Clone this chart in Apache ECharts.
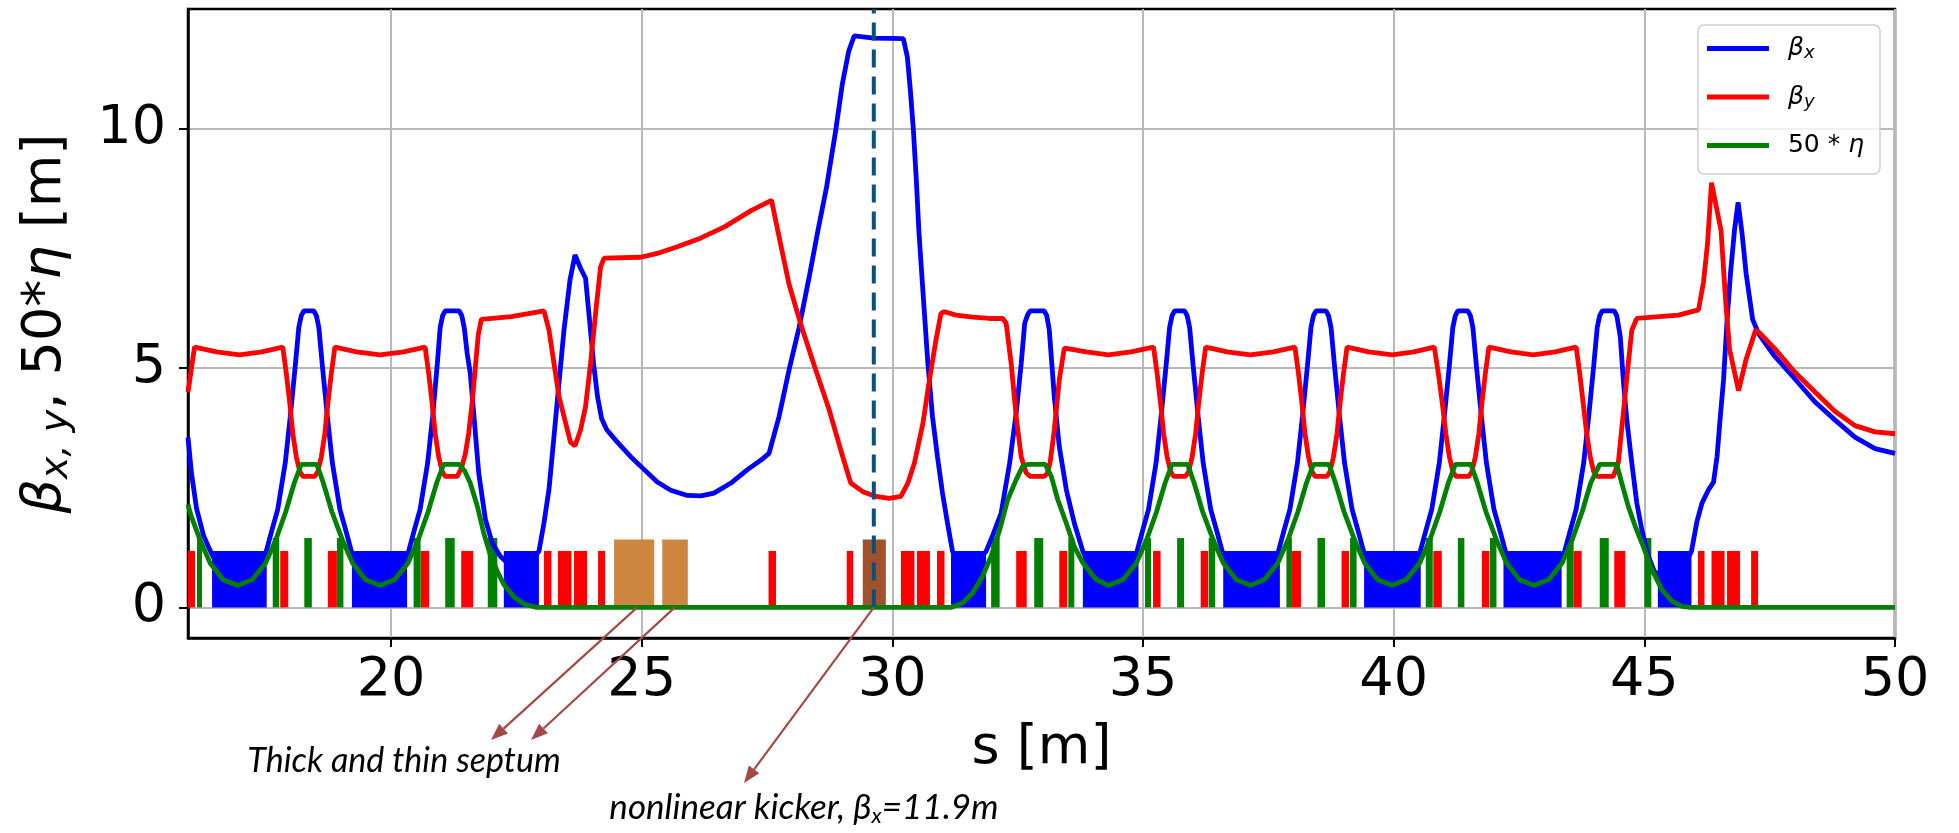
<!DOCTYPE html>
<html>
<head>
<meta charset="utf-8">
<script src="https://cdn.jsdelivr.net/npm/echarts@6/dist/echarts.min.js"></script>
<style>
  html, body { margin: 0; padding: 0; background: #ffffff; }
  #chart { width: 1959px; height: 833px; }
</style>
</head>
<body>
<div id="chart"></div>
<script>
// ---- axis ticks ----
const sTicks = [20, 25, 30, 35, 40, 45, 50];
const yTicks = [0, 5, 10];
const S_MIN = 15.95, S_MAX = 50;
const Y_MIN = -0.64, Y_MAX = 12.51;

// ---- optics functions along s [m] ----
const betaX = [
  [15.95,3.55],[16.02,2.80],[16.12,2.07],[16.26,1.50],[16.40,1.17],[16.55,0.85],[16.97,0.50],[17.38,0.85],
  [17.51,1.17],[17.62,1.60],[17.74,2.05],[17.89,3.02],[17.99,3.99],[18.09,5.05],[18.16,5.85],[18.21,6.10],[18.26,6.20],[18.46,6.20],[18.51,6.10],[18.56,5.85],[18.63,5.05],[18.73,3.99],[18.83,3.02],[18.98,2.05],[19.10,1.60],[19.21,1.17],
  [19.36,0.85],[19.78,0.50],[20.20,0.85],
  [20.35,1.17],[20.46,1.60],[20.58,2.05],[20.73,3.02],[20.83,3.99],[20.92,5.05],[20.98,5.85],[21.03,6.10],[21.08,6.20],[21.36,6.20],[21.41,6.10],[21.46,5.85],[21.52,5.30],[21.58,4.90],[21.65,4.05],[21.75,2.80],[21.88,1.85],[22.02,1.34],[22.18,1.07],
  [22.40,0.85],[22.70,0.90],
  [22.95,1.17],[23.05,1.76],[23.15,2.46],[23.25,3.57],[23.35,4.69],[23.45,5.80],[23.57,6.85],[23.67,7.37],[23.78,7.09],[23.88,6.88],[23.96,6.00],[24.04,5.10],[24.12,4.40],[24.20,3.95],[24.30,3.72],[24.50,3.47],[24.78,3.15],[25.05,2.88],[25.31,2.62],[25.58,2.45],[25.91,2.34],[26.18,2.33],[26.44,2.39],[26.78,2.60],[27.11,2.88],[27.38,3.08],[27.54,3.22],[27.74,3.99],[27.94,4.97],[28.14,5.85],[28.34,6.90],[28.51,7.85],[28.69,8.80],[28.87,9.97],[29.00,10.93],[29.13,11.63],[29.24,11.95],[29.63,11.90],[30.22,11.89],
  [30.30,11.50],[30.36,10.80],[30.42,9.97],[30.48,8.90],[30.53,7.85],[30.62,6.45],[30.71,5.08],[30.80,3.99],[30.90,3.15],[31.00,2.39],[31.10,1.76],[31.20,1.17],
  [31.40,0.90],[31.60,0.85],
  [31.87,1.17],[32.00,1.50],[32.17,1.97],[32.34,3.02],[32.47,4.06],[32.57,5.10],[32.64,5.94],[32.70,6.12],[32.75,6.20],[33.03,6.20],[33.08,6.10],[33.13,5.80],[33.23,4.41],[33.33,3.36],[33.47,2.46],[33.63,1.76],[33.80,1.17],
  [33.95,0.85],[34.33,0.50],[34.75,0.85],
  [34.88,1.17],[34.99,1.60],[35.11,2.05],[35.26,3.02],[35.36,3.99],[35.46,5.05],[35.53,5.85],[35.58,6.10],[35.63,6.20],[35.83,6.20],[35.88,6.10],[35.93,5.85],[36.00,5.05],[36.10,3.99],[36.20,3.02],[36.35,2.05],[36.47,1.60],[36.58,1.17],
  [36.73,0.85],[37.15,0.50],[37.57,0.85],
  [37.70,1.17],[37.81,1.60],[37.93,2.05],[38.08,3.02],[38.18,3.99],[38.28,5.05],[38.35,5.85],[38.40,6.10],[38.45,6.20],[38.65,6.20],[38.70,6.10],[38.75,5.85],[38.82,5.05],[38.92,3.99],[39.02,3.02],[39.17,2.05],[39.29,1.60],[39.40,1.17],
  [39.55,0.85],[39.97,0.50],[40.39,0.85],
  [40.53,1.17],[40.64,1.60],[40.76,2.05],[40.91,3.02],[41.01,3.99],[41.11,5.05],[41.18,5.85],[41.23,6.10],[41.28,6.20],[41.48,6.20],[41.53,6.10],[41.58,5.85],[41.65,5.05],[41.75,3.99],[41.85,3.02],[42.00,2.05],[42.12,1.60],[42.23,1.17],
  [42.38,0.85],[42.80,0.50],[43.22,0.85],
  [43.41,1.17],[43.52,1.60],[43.64,2.05],[43.79,3.02],[43.89,3.99],[43.99,5.05],[44.06,5.85],[44.11,6.10],[44.16,6.20],[44.40,6.20],[44.45,6.10],[44.52,5.66],[44.58,4.76],[44.65,3.92],[44.75,3.02],[44.85,2.18],[44.95,1.62],[45.08,1.07],[45.20,0.75],
  [45.45,0.60],[45.75,0.80],
  [45.94,1.17],[46.05,1.80],[46.15,2.18],[46.28,2.46],[46.38,2.62],[46.45,3.15],[46.51,3.92],[46.58,4.76],[46.65,6.00],[46.72,7.00],[46.80,7.90],[46.87,8.47],[46.95,7.81],[47.03,6.98],[47.16,6.02],[47.28,5.72],
  [47.60,5.25],[48.00,4.78],[48.40,4.30],[48.80,3.92],[49.20,3.56],[49.60,3.32],[50.00,3.22]
];

const betaY = [
  [15.95,4.50],[16.08,5.44],[16.52,5.34],[16.98,5.28],[17.42,5.34],
  [17.84,5.44],[17.91,4.90],[17.98,4.27],[18.04,3.64],[18.11,3.15],[18.18,2.84],[18.24,2.74],[18.48,2.74],[18.54,2.84],[18.61,3.15],[18.68,3.64],[18.74,4.27],[18.81,4.90],[18.88,5.44],
  [19.31,5.34],[19.78,5.28],[20.25,5.34],
  [20.68,5.44],[20.75,4.90],[20.82,4.27],[20.88,3.64],[20.95,3.15],[21.02,2.84],[21.08,2.74],[21.32,2.74],[21.40,2.90],[21.48,3.20],[21.55,3.65],[21.62,4.30],[21.68,5.00],[21.74,5.70],[21.80,6.02],[22.40,6.08],[23.05,6.20],
  [23.15,5.80],[23.25,5.10],[23.35,4.41],[23.45,3.99],[23.58,3.45],[23.67,3.38],[23.78,3.71],[23.88,4.20],[23.98,5.10],[24.08,6.15],[24.18,7.12],[24.25,7.30],[24.98,7.32],[25.31,7.40],[25.71,7.54],[26.13,7.70],[26.66,7.96],[27.19,8.30],[27.59,8.51],
  [27.68,8.05],[27.81,7.40],[27.94,6.75],[28.08,6.25],[28.21,5.80],[28.47,4.97],[28.74,4.13],[29.01,3.15],[29.17,2.60],[29.41,2.42],[29.67,2.32],[29.94,2.28],[30.17,2.32],[30.31,2.60],[30.44,3.02],[30.61,3.85],[30.74,4.76],[30.87,5.59],[30.97,6.15],[31.04,6.18],
  [31.27,6.11],[31.60,6.07],[31.94,6.04],[32.20,6.04],[32.27,5.94],[32.37,5.10],[32.47,3.99],[32.57,3.15],[32.67,2.81],[32.75,2.74],[33.03,2.74],[33.09,2.80],[33.15,3.05],[33.23,3.71],[33.33,4.76],[33.43,5.42],
  [33.87,5.34],[34.31,5.28],[34.76,5.34],
  [35.21,5.44],[35.28,4.90],[35.35,4.27],[35.41,3.64],[35.48,3.15],[35.55,2.84],[35.61,2.74],[35.85,2.74],[35.91,2.84],[35.98,3.15],[36.05,3.64],[36.11,4.27],[36.18,4.90],[36.25,5.44],
  [36.68,5.34],[37.14,5.28],[37.60,5.34],
  [38.03,5.44],[38.10,4.90],[38.17,4.27],[38.23,3.64],[38.30,3.15],[38.37,2.84],[38.43,2.74],[38.67,2.74],[38.73,2.84],[38.80,3.15],[38.87,3.64],[38.93,4.27],[39.00,4.90],[39.07,5.44],
  [39.50,5.34],[39.97,5.28],[40.40,5.34],
  [40.81,5.44],[40.89,4.90],[40.97,4.27],[41.04,3.64],[41.11,3.15],[41.18,2.84],[41.24,2.74],[41.50,2.74],[41.56,2.84],[41.63,3.15],[41.70,3.64],[41.76,4.27],[41.83,4.90],[41.90,5.44],
  [42.34,5.34],[42.78,5.28],[43.22,5.34],
  [43.64,5.44],[43.71,4.90],[43.78,4.27],[43.85,3.64],[43.92,3.15],[43.99,2.84],[44.05,2.74],[44.38,2.74],[44.48,3.02],[44.58,4.06],[44.68,5.10],[44.75,5.80],[44.85,6.04],
  [45.30,6.08],[45.68,6.11],[46.08,6.22],[46.18,6.80],[46.26,7.60],[46.34,8.88],[46.53,7.88],[46.62,6.43],[46.70,5.39],[46.88,4.53],[47.03,5.19],[47.22,5.80],[47.30,5.74],
  [47.60,5.41],[48.00,4.92],[48.40,4.51],[48.80,4.10],[49.20,3.80],[49.60,3.67],[50.00,3.63]
];

// dispersion scaled by 50
const eta50 = [
  [15.95,2.15],[16.00,1.95],[16.19,1.41],[16.39,0.93],[16.65,0.58],[16.95,0.46],
  [17.23,0.58],[17.50,0.93],[17.70,1.41],[17.90,2.00],[18.07,2.60],[18.21,2.99],[18.52,2.99],[18.65,2.60],[18.82,2.00],[19.03,1.41],[19.23,0.93],[19.49,0.58],[19.78,0.46],
  [20.07,0.58],[20.34,0.93],[20.54,1.41],[20.74,2.00],[20.91,2.60],[21.05,2.99],[21.36,2.99],[21.47,2.85],[21.58,2.60],[21.72,2.12],[21.85,1.55],[21.98,1.10],[22.12,0.75],[22.25,0.48],[22.45,0.22],[22.65,0.07],[22.90,0.00],
  [31.17,0.00],[31.40,0.09],[31.60,0.30],[31.80,0.65],[31.97,1.07],[32.14,1.62],[32.30,2.25],[32.47,2.67],[32.60,2.95],[32.70,2.99],[33.05,2.99],[33.17,2.74],[33.30,2.25],[33.47,1.76],[33.63,1.27],[33.80,0.93],[34.07,0.58],[34.31,0.46],
  [34.60,0.58],[34.87,0.93],[35.07,1.41],[35.27,2.00],[35.44,2.60],[35.58,2.99],[35.89,2.99],[36.02,2.60],[36.19,2.00],[36.40,1.41],[36.60,0.93],[36.86,0.58],[37.14,0.46],
  [37.42,0.58],[37.69,0.93],[37.89,1.41],[38.09,2.00],[38.26,2.60],[38.40,2.99],[38.71,2.99],[38.84,2.60],[39.01,2.00],[39.22,1.41],[39.42,0.93],[39.68,0.58],[39.97,0.46],
  [40.25,0.58],[40.52,0.93],[40.72,1.41],[40.92,2.00],[41.09,2.60],[41.23,2.99],[41.54,2.99],[41.67,2.60],[41.84,2.00],[42.05,1.41],[42.25,0.93],[42.51,0.58],[42.80,0.46],
  [43.09,0.58],[43.36,0.93],[43.56,1.41],[43.76,2.00],[43.93,2.60],[44.11,2.99],[44.45,2.99],[44.55,2.60],[44.68,2.11],[44.82,1.69],[44.98,1.27],[45.15,0.79],[45.35,0.37],[45.55,0.13],[45.75,0.02],[45.92,0.00],[50.00,0.00]
];

// ---- lattice elements: [s_start, s_end] ----
const quadrupoles = [
  [15.95,16.09],[17.79,17.95],[18.74,18.92],[20.59,20.76],[21.40,21.64],[23.05,23.20],[23.33,23.60],[23.65,23.91],[24.13,24.27],
  [27.53,27.68],[29.09,29.22],[30.17,30.44],[30.49,30.75],[30.89,31.04],[32.47,32.68],[33.33,33.49],[35.20,35.35],[36.15,36.30],
  [37.97,38.15],[38.96,39.11],[40.79,40.96],[41.76,41.91],[43.59,43.75],[44.40,44.62],[46.07,46.20],[46.34,46.60],[46.65,46.91],[47.13,47.27]
];
const dipoles = [
  [16.43,17.52],[19.22,20.32],[22.25,22.95],[31.17,31.87],[33.80,34.91],[36.60,37.73],[39.41,40.54],[42.19,43.35],[45.27,45.94]
];
const sextupoles = [
  [16.13,16.23],[17.64,17.77],[18.27,18.42],[18.92,19.05],[20.45,20.59],[21.08,21.27],[21.93,22.12],
  [31.97,32.14],[32.83,33.01],[33.51,33.63],[35.04,35.16],[35.68,35.82],[36.31,36.44],[37.86,37.97],[38.48,38.63],
  [39.13,39.26],[40.64,40.78],[41.28,41.41],[41.92,42.05],[43.45,43.59],[44.11,44.29],[45.00,45.14]
];
const septa = [[24.45,25.25],[25.41,25.92]];
const kickers = [[29.41,29.87]];
const elementHeight = { dipole: 1.18, quadrupole: 1.18, sextupole: 1.45, septum: 1.42, kicker: 1.42 };

// nonlinear kicker location
const KICKER_S = 29.63;

// ---- styling ----
const COLORS = { bx: '#0000ff', by: '#ff0000', eta: '#008000' };
const ELEMENT_COLORS = { dipole: '#0000ff', quadrupole: '#ff0000', sextupole: '#008000', septum: '#cd853f', kicker: '#a0522d' };
const KIND_LIST = ['dipole', 'quadrupole', 'sextupole', 'septum', 'kicker'];
const ANNOT_COLOR = '#a24a48';
const MAIN_FONT = "'DejaVu Sans', sans-serif";
const NOTE_FONT = "Lato, 'Open Sans', sans-serif";
const LINE_W = 4.8;

function elementRows() {
  const groups = [['dipole', dipoles], ['quadrupole', quadrupoles], ['sextupole', sextupoles], ['septum', septa], ['kicker', kickers]];
  const rows = [];
  groups.forEach(([kind, list]) => {
    list.forEach(([a, b]) => rows.push([a, b, elementHeight[kind], KIND_LIST.indexOf(kind)]));
  });
  return rows;
}

const kickerBeta = betaX.find(p => p[0] === KICKER_S)[1];

const chart = echarts.init(document.getElementById('chart'), null, { renderer: 'canvas' });

const option = {
  animation: false,
  backgroundColor: '#ffffff',
  grid: {
    left: 188, top: 9, width: 1707, height: 629,
    show: true, borderColor: '#000000', borderWidth: 2.5, backgroundColor: 'transparent'
  },
  xAxis: {
    type: 'value', min: S_MIN, max: S_MAX,
    name: 's [m]', nameLocation: 'middle', nameGap: 84,
    nameTextStyle: { fontFamily: MAIN_FONT, fontSize: 54, color: '#000' },
    axisLine: { show: true, onZero: false, lineStyle: { color: '#000', width: 2.5 } },
    axisTick: { show: true, customValues: sTicks, length: 9, lineStyle: { color: '#000', width: 2 } },
    axisLabel: { customValues: sTicks, fontFamily: MAIN_FONT, fontSize: 54, color: '#000', margin: 16 },
    splitLine: { show: true, lineStyle: { color: '#b8b8b8', width: 2 } }
  },
  yAxis: {
    type: 'value', min: Y_MIN, max: Y_MAX,
    name: '{g|β}{s|x, y}{n|, 50*}{g|η}{n| [m]}',
    nameLocation: 'middle', nameRotate: 90, nameGap: 112,
    nameTextStyle: {
      color: '#000',
      rich: {
        g: { fontFamily: MAIN_FONT, fontStyle: 'italic', fontSize: 54, lineHeight: 60, color: '#000' },
        s: { fontFamily: MAIN_FONT, fontStyle: 'italic', fontSize: 38, lineHeight: 22, verticalAlign: 'bottom', color: '#000' },
        n: { fontFamily: MAIN_FONT, fontSize: 54, lineHeight: 60, color: '#000' }
      }
    },
    axisLine: { show: true, onZero: false, lineStyle: { color: '#000', width: 2.5 } },
    axisTick: { show: true, customValues: yTicks, length: 9, lineStyle: { color: '#000', width: 2 } },
    axisLabel: { customValues: yTicks, fontFamily: MAIN_FONT, fontSize: 54, color: '#000', margin: 22 },
    splitLine: { show: true, lineStyle: { color: '#b8b8b8', width: 2 } }
  },
  legend: {
    data: ['βx', 'βy', '50*η'],
    orient: 'vertical', right: 79, top: 25,
    icon: 'rect', itemWidth: 62, itemHeight: 5, itemGap: 22,
    padding: [11, 16, 16, 9],
    backgroundColor: 'rgba(255,255,255,0.8)', borderColor: '#cfcfcf', borderWidth: 1.5, borderRadius: 6,
    formatter: function (name) {
      if (name === 'βx') return '{g|β}{s|x}';
      if (name === 'βy') return '{g|β}{s|y}';
      return '{n|50 * }{g|η}';
    },
    textStyle: {
      padding: [0, 0, 0, 14],
      rich: {
        g: { fontFamily: MAIN_FONT, fontStyle: 'italic', fontSize: 25, lineHeight: 28, color: '#000' },
        s: { fontFamily: MAIN_FONT, fontStyle: 'italic', fontSize: 18, lineHeight: 10, verticalAlign: 'bottom', color: '#000' },
        n: { fontFamily: MAIN_FONT, fontSize: 25, lineHeight: 28, color: '#000' }
      }
    }
  },
  series: [
    {
      type: 'custom', name: 'elements', z: 1, clip: true,
      data: elementRows(),
      encode: { x: [0, 1], y: 2 },
      renderItem: function (params, api) {
        const p0 = api.coord([api.value(0), api.value(2)]);
        const p1 = api.coord([api.value(1), 0]);
        return {
          type: 'rect',
          shape: { x: p0[0], y: p0[1], width: p1[0] - p0[0], height: p1[1] - p0[1] },
          style: { fill: ELEMENT_COLORS[KIND_LIST[api.value(3)]] }
        };
      }
    },
    { type: 'line', name: 'βx', data: betaX, z: 3, symbol: 'none', color: COLORS.bx, lineStyle: { color: COLORS.bx, width: LINE_W } },
    { type: 'line', name: 'βy', data: betaY, z: 4, symbol: 'none', color: COLORS.by, lineStyle: { color: COLORS.by, width: LINE_W } },
    { type: 'line', name: '50*η', data: eta50, z: 5, symbol: 'none', color: COLORS.eta, lineStyle: { color: COLORS.eta, width: LINE_W } },
    {
      type: 'line', name: 'kicker position', z: 6, symbol: 'none',
      data: [[KICKER_S, 0], [KICKER_S, Y_MAX]],
      lineStyle: { color: '#0e4e7a', width: 4, type: [18, 9] }
    }
  ]
};

chart.setOption(option);

// ---- annotations: notes below the axis with arrows to the elements ----
function arrow(from, to) {
  const dx = to[0] - from[0], dy = to[1] - from[1];
  const len = Math.sqrt(dx * dx + dy * dy);
  const ux = dx / len, uy = dy / len;
  const head = 17, half = 6.5;
  const bx = to[0] - ux * head, by = to[1] - uy * head;
  return [
    { type: 'line', z: 20, shape: { x1: from[0], y1: from[1], x2: bx, y2: by }, style: { stroke: ANNOT_COLOR, lineWidth: 2.2 } },
    { type: 'polygon', z: 20, shape: { points: [[to[0], to[1]], [bx - uy * half, by + ux * half], [bx + uy * half, by - ux * half]] }, style: { fill: ANNOT_COLOR } }
  ];
}

const thickTip = chart.convertToPixel({ gridIndex: 0 }, [24.91, 0]);
const thinTip = chart.convertToPixel({ gridIndex: 0 }, [25.66, 0]);
const kickTip = chart.convertToPixel({ gridIndex: 0 }, [KICKER_S, 0]);

const graphics = [].concat(
  arrow(thickTip, [491, 740]),
  arrow(thinTip, [531, 740]),
  arrow(kickTip, [744, 783]),
  [
    {
      type: 'text', z: 20, x: 404, y: 761,
      style: { text: 'Thick and thin septum', fontFamily: NOTE_FONT, fontStyle: 'italic', fontSize: 34, fill: '#000', align: 'center', verticalAlign: 'middle' }
    },
    {
      type: 'text', z: 20, x: 804, y: 808,
      style: {
        text: '{t|nonlinear kicker, }{g|β}{s|x}{t|=' + kickerBeta.toFixed(1) + 'm}',
        align: 'center', verticalAlign: 'middle',
        rich: {
          t: { fontFamily: NOTE_FONT, fontStyle: 'italic', fontSize: 35, lineHeight: 38, fill: '#000' },
          g: { fontFamily: NOTE_FONT, fontStyle: 'italic', fontSize: 35, lineHeight: 38, fill: '#000' },
          s: { fontFamily: NOTE_FONT, fontStyle: 'italic', fontSize: 22, lineHeight: 12, verticalAlign: 'bottom', fill: '#000' }
        }
      }
    }
  ]
);

chart.setOption({ graphic: graphics });
</script>
</body>
</html>
